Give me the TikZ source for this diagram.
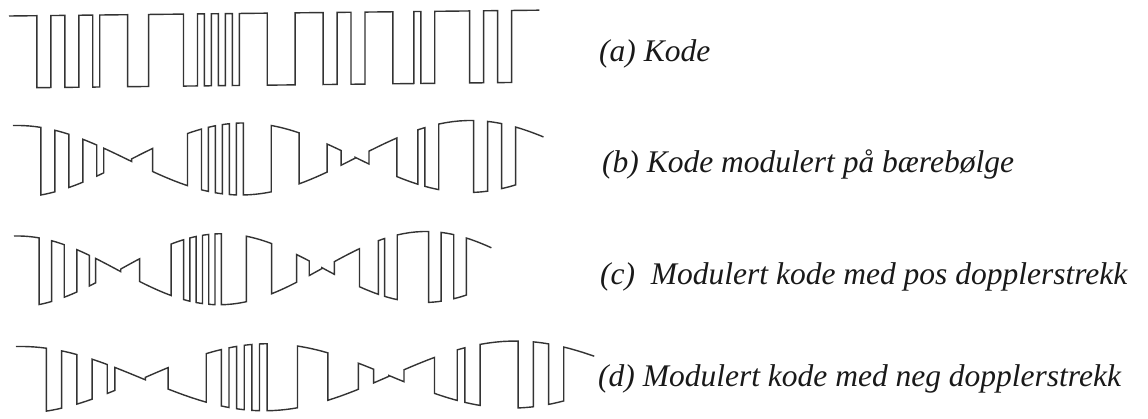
\documentclass[tikz,border=0pt]{standalone}
\usepackage{fontspec}
\setmainfont{Liberation Serif}
\begin{document}
\begin{tikzpicture}[x=1pt,y=-1pt,
  wave/.style={draw=black!80, line width=1.4pt, line join=miter},
  caption/.style={anchor=base west, inner sep=0pt, text=black!90,
    font=\itshape\fontsize{31.5}{38}\selectfont}]
\useasboundingbox (0,0) rectangle (1148,418);
% chip length, carrier phase, carrier degrees per unit time, drift of the rows
\def\chip{6.98}
\def\tzero{2.5}
\def\degper{0.79295}
\def\tilt{0.011}
% bare code: #1 start x, #2 centre y, #3 half swing, #4 list macro k1/k2/sign
\newcommand\drawcode[4]{%
  \draw[wave] ({#1},{#2-#3}) \foreach \ka/\kb/\sg in #4 {
    -- ({#1+\chip*\ka},{#2-\tilt*\chip*\ka-#3*\sg})
    -- ({#1+\chip*\kb},{#2-\tilt*\chip*\kb-#3*\sg})
  };}
% code on carrier: #1 start x, #2 time stretch, #3 centre y, #4 amplitude, #5 list macro
\newcommand\drawmod[5]{%
  \draw[wave] ({#1},{#3-#4*cos(-\tzero*\degper)}) \foreach \ka/\kb/\sg in #5 {
    \foreach \fr in {0,0.2,0.4,0.6,0.8,1} {
      -- ({#1+#2*\chip*(\ka+(\kb-\ka)*\fr)},
          {#3-\tilt*#2*\chip*(\ka+(\kb-\ka)*\fr)-#4*\sg*cos((\chip*(\ka+(\kb-\ka)*\fr)-\tzero)*\degper)})
    }
  };}
\def\codeList{0/4/1,4/6/-1,6/8/1,8/10/-1,10/12/1,12/13/-1,13/17/1,17/20/-1,20/25/1,25/27/-1,27/28/1,28/29/-1,29/30/1,30/31/-1,31/32/1,32/33/-1,33/37/1,37/41/-1,41/45/1,45/47/-1,47/49/1,49/51/-1,51/55/1,55/58/-1,58/59/1,59/61/-1,61/66/1,66/68/-1,68/70/1,70/72/-1,72/76/1}
% (a) code
\drawcode{9}{52}{36}{\codeList}
% (b) code on carrier
\drawmod{13}{1}{161.5}{36}{\codeList}
% (c) compressed in time
\drawmod{14}{0.9}{271.5}{35.5}{\codeList}
% (d) stretched in time
\drawmod{16}{1.09}{380}{33.5}{\codeList}
% captions
\node[caption] (capA) at (599,61) {(a) Kode};
\node[caption] (capB) at (602,172) {(b) Kode modulert på bærebølge};
\node[caption] (capC) at (600,284) {(c)\ \ Modulert kode med pos dopplerstrekk};
\node[caption] (capD) at (598,386) {(d) Modulert kode med neg dopplerstrekk};
\end{tikzpicture}
\end{document}
